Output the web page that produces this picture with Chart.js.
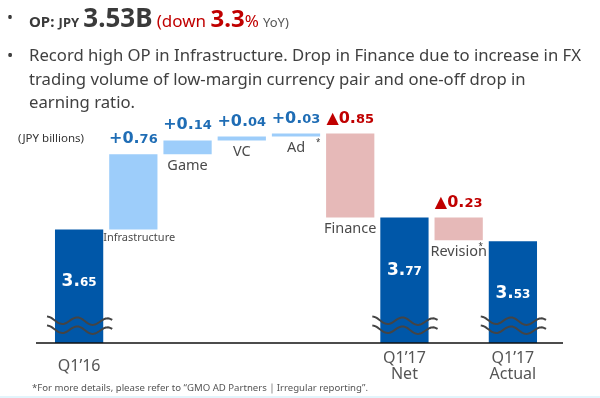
<!DOCTYPE html>
<html lang="en">
<head>
  <meta charset="UTF-8">
  <title>OP waterfall</title>
  <script src="https://cdn.jsdelivr.net/npm/chart.js"></script>
  <style>
    html, body { margin: 0; padding: 0; background: #fff; }
    body { width: 600px; height: 398px; position: relative; overflow: hidden; font-family: "Noto Sans", sans-serif; color: #404040; }
    #chart { position: absolute; left: 0; top: 0; }
    .abs { position: absolute; white-space: nowrap; }
    .dot { position: absolute; left: 7px; }
    #l1 { left: 0; top: 0; height: 34px; line-height: 34px; color: #3a3a3a; }
    #l1 .txt { position: absolute; left: 29px; }
    .op { font-weight: bold; font-size: 15px; }
    .jpy { font-weight: bold; font-size: 13px; }
    .big { font-weight: bold; font-size: 26px; }
    .red { color: #c00000; font-size: 17px; }
    .red b { font-size: 24px; }
    .yoy { font-size: 13px; color: #555; }
    #l2 { left: 0; top: 43px; font-size: 16.7px; line-height: 23.5px; }
    #l2 .txt { position: absolute; left: 29px; top: 0; }
    #unit { left: 18px; top: 130px; font-size: 11.5px; color: #333; }
    #note { left: 32px; top: 381px; font-size: 9.6px; color: #555; }
    #strip { left: 0; bottom: 0; width: 600px; height: 2px; background: #e2f5fc; }
  </style>
</head>
<body>

  <canvas id="chart" width="600" height="398"></canvas>

  <!-- Heading text -->
  <div id="l1" class="abs"><span class="dot">•</span><span class="txt"><span class="op">OP:</span> <span class="jpy">JPY</span> <span class="big">3.53B</span> <span class="red">(down <b>3.3</b>%</span> <span class="yoy">YoY)</span></span></div>
  <div id="l2" class="abs"><span class="dot">•</span><span class="txt">Record high OP in Infrastructure. Drop in Finance due to increase in FX<br>trading volume of low-margin currency pair and one-off drop in<br>earning ratio.</span></div>
  <div id="unit" class="abs">(JPY billions)</div>
  <div id="note" class="abs">*For more details, please refer to “GMO AD Partners｜Irregular reporting”.</div>
  <div id="strip" class="abs"></div>

  <script>
    // data
    const categories = ["Q1’16", "Infrastructure", "Game", "VC", "Ad", "Finance", "Q1’17 Net", "Revision", "Q1’17 Actual"];
    const tickLabels = ["Q1’16", "", "", "", "", "", ["Q1’17", "Net"], "", ["Q1’17", "Actual"]];
    const kinds = ["total", "delta", "delta", "delta", "delta", "delta", "total", "delta", "total"];
    const values = [3.65, 0.76, 0.14, 0.04, 0.03, -0.85, 3.77, -0.23, 3.53];
    const footnoted = ["Ad", "Revision"];
    const axisMin = 2.5;   // axis is broken, bars start here
    const axisMax = 5.0;

    const totalColor = '#0057a8';
    const upColor = '#9dcdfa';
    const downColor = '#e6b9b8';
    const upText = '#1f6db5';
    const downText = '#c00000';

    // floating bars for the waterfall
    let running = 0;
    const floats = values.map((v, i) => {
      if (kinds[i] === 'total') {
        running = v;
        return [axisMin, v];
      }
      const start = running;
      running += v;
      return [start, running];
    });
    const colors = values.map((v, i) => kinds[i] === 'total' ? totalColor : (v > 0 ? upColor : downColor));

    // big integer part + small decimals, like the slide
    const splitText = (ctx, x, y, big, small, bigSize, smallSize, color) => {
      ctx.fillStyle = color;
      ctx.textBaseline = 'alphabetic';
      ctx.textAlign = 'left';
      ctx.font = `bold ${bigSize}px "DejaVu Sans"`;
      const w1 = ctx.measureText(big).width;
      ctx.font = `bold ${smallSize}px "DejaVu Sans"`;
      const w2 = ctx.measureText(small).width;
      const x0 = x - (w1 + w2) / 2;
      ctx.font = `bold ${bigSize}px "DejaVu Sans"`;
      ctx.fillText(big, x0, y);
      ctx.font = `bold ${smallSize}px "DejaVu Sans"`;
      ctx.fillText(small, x0 + w1, y);
    };

    const wave = (ctx, x0, x1, y) => {
      ctx.beginPath();
      for (let i = 0; i <= 60; i++) {
        const t = i / 60;
        const px = x0 + (x1 - x0) * t;
        const py = y - 3.5 * Math.cos(t * Math.PI * 4.3) + t * 2;
        if (i === 0) ctx.moveTo(px, py); else ctx.lineTo(px, py);
      }
      ctx.stroke();
    };

    const waterfallLabels = {
      id: 'waterfallLabels',
      afterDatasetsDraw(chart) {
        const { ctx, chartArea } = chart;
        const meta = chart.getDatasetMeta(0);
        ctx.save();

        // base line
        ctx.strokeStyle = '#111';
        ctx.lineWidth = 1.5;
        ctx.beginPath();
        ctx.moveTo(chartArea.left - 16, chartArea.bottom);
        ctx.lineTo(chartArea.right + 23, chartArea.bottom);
        ctx.stroke();

        meta.data.forEach((bar, i) => {
          const v = values[i];
          const top = Math.min(bar.y, bar.base);
          const bottom = Math.max(bar.y, bar.base);
          const left = bar.x - bar.width / 2;
          const right = bar.x + bar.width / 2;
          const parts = Math.abs(v).toFixed(2).split('.');

          if (kinds[i] === 'total') {
            splitText(ctx, bar.x, top + 57, parts[0] + '.', parts[1], 17, 12, '#fff');
            // axis break mark
            ctx.strokeStyle = '#444';
            ctx.lineWidth = 2;
            wave(ctx, left - 8, right + 9, chartArea.bottom - 23);
            wave(ctx, left - 8, right + 9, chartArea.bottom - 14);
            return;
          }

          const sign = v > 0 ? '+' : '▲';
          splitText(ctx, bar.x, top - 11, sign + parts[0] + '.', parts[1], 16, 13, v > 0 ? upText : downText);

          const name = categories[i];
          ctx.fillStyle = '#4a4a4a';
          ctx.textBaseline = 'top';
          if (name.length > 10) {
            ctx.font = '11px "Noto Sans"';
            ctx.textAlign = 'left';
            ctx.fillText(name, left - 6, bottom + 3);
          } else {
            ctx.font = '14.5px "Noto Sans"';
            ctx.textAlign = 'center';
            ctx.fillText(name, bar.x, bottom + 4);
          }
          if (footnoted.includes(name)) {
            ctx.font = '8px "Noto Sans"';
            ctx.textAlign = 'center';
            ctx.fillStyle = '#333';
            ctx.fillText('*', right - 2, bottom + 2);
          }
        });
        ctx.restore();
      }
    };

    new Chart(document.getElementById('chart'), {
      type: 'bar',
      data: {
        labels: tickLabels,
        datasets: [{
          data: floats,
          backgroundColor: colors,
          borderWidth: 0,
          categoryPercentage: 1,
          barPercentage: 0.89
        }]
      },
      options: {
        responsive: false,
        animation: false,
        layout: { padding: { left: 52, right: 60, top: 96, bottom: 15 } },
        plugins: {
          legend: { display: false },
          tooltip: { enabled: false }
        },
        scales: {
          x: {
            grid: { display: false, drawTicks: false },
            border: { display: false },
            ticks: {
              color: '#555',
              font: { family: 'Noto Sans', size: 16, lineHeight: 1.0 },
              padding: 15,
              crossAlign: 'center',
              maxRotation: 0,
              autoSkip: false
            },
            afterFit: scale => { scale.height = 40; }
          },
          y: { display: false, min: axisMin, max: axisMax }
        }
      },
      plugins: [waterfallLabels]
    });
  </script>
</body>
</html>
